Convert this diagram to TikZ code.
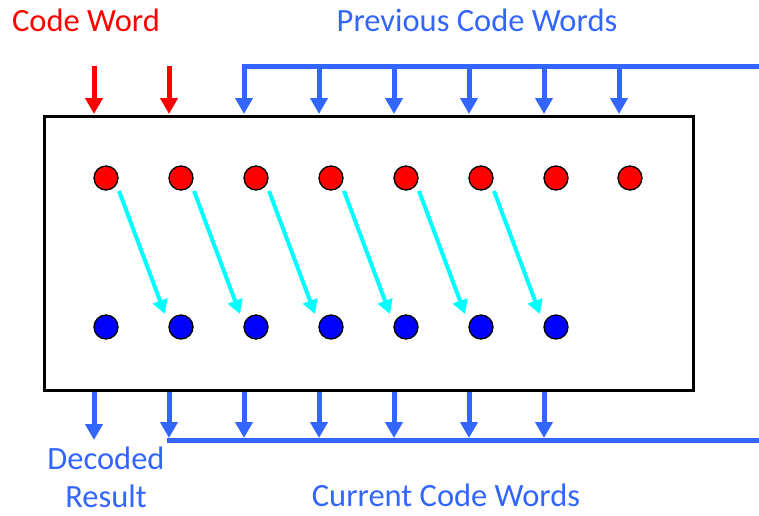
\documentclass[tikz,border=0pt]{standalone}
\usepackage{fontspec}
\setmainfont{Carlito}
\usetikzlibrary{arrows.meta}
\definecolor{myblue}{HTML}{3366FF}
\definecolor{dotblue}{HTML}{0000FF}
\definecolor{dotred}{HTML}{FF0000}
\definecolor{mycyan}{HTML}{00FFFF}
\tikzset{
  rdot/.style={circle,draw=black,line width=1.3pt,fill=dotred,minimum size=24pt,inner sep=0pt},
  bdot/.style={circle,draw=black,line width=1.3pt,fill=dotblue,minimum size=24pt,inner sep=0pt},
  redarr/.style={draw=dotred,line width=5pt,-{Triangle[width=17pt,length=16pt]}},
  bluearr/.style={draw=myblue,line width=5pt,-{Triangle[width=17pt,length=16pt]}},
  blueline/.style={draw=myblue,line width=5pt},
  cyanarr/.style={draw=mycyan,line width=4pt,-{Triangle[width=15pt,length=14pt]}},
  lbl/.style={font=\fontsize{32.5}{38}\selectfont,inner sep=0pt},
  boxst/.style={draw=black,line width=3pt}
}
\begin{document}
\begin{tikzpicture}[x=1pt,y=-1pt]
\useasboundingbox (0,0) rectangle (759,515);
% box
\coordinate (boxNW) at (44,116);
\coordinate (boxSE) at (693,390);
\draw[boxst] (boxNW) rectangle (boxSE);
% dots
\foreach \i/\x in {1/106,2/181,3/256,4/331,5/406,6/481,7/556,8/630}{
  \node[rdot] (r\i) at (\x,178) {};
}
\foreach \i/\x in {1/106,2/181,3/256,4/331,5/406,6/481,7/556}{
  \node[bdot] (b\i) at (\x,327) {};
}
% cyan arrows
\foreach \i [evaluate=\i as \j using int(\i+1)] in {1,...,6}{
  \draw[cyanarr] ([shift={(13,13)}]r\i.center) -- ([shift={(-16,-13)}]b\j.center);
}
% red input arrows
\foreach \x [count=\k] in {94,169}{
  \coordinate (rs\k) at (\x,66);
  \coordinate (re\k) at (\x,114);
  \draw[redarr] (rs\k) -- (re\k);
}
% previous code words bus
\coordinate (pbL) at (244,66);
\coordinate (pbR) at (759,66);
\draw[blueline] ([xshift=-2.5pt]pbL) -- (pbR);
\foreach \x [count=\k] in {244,319,394,469,544,619}{
  \coordinate (ps\k) at (\x,66);
  \coordinate (pe\k) at (\x,114);
  \draw[bluearr] (ps\k) -- (pe\k);
}
% outputs
\coordinate (os0) at (94,392);
\coordinate (oe0) at (94,440);
\draw[bluearr] (os0) -- (oe0);
\coordinate (cbL) at (169,440);
\coordinate (cbR) at (759,440);
\draw[blueline] ([xshift=-2.5pt]cbL) -- (cbR);
\foreach \x [count=\k] in {169,244,319,394,469,544}{
  \coordinate (os\k) at (\x,392);
  \coordinate (oe\k) at (\x,438);
  \draw[bluearr] (os\k) -- (oe\k);
}
% labels
\node[lbl,text=dotred] (cw) at (86,20) {Code Word};
\node[lbl,text=myblue] (pcw) at (477,20) {Previous Code Words};
\node[lbl,text=myblue] (dec) at (106,458) {Decoded};
\node[lbl,text=myblue] (res) at (106,496) {Result};
\node[lbl,text=myblue] (ccw) at (446,495) {Current Code Words};
\end{tikzpicture}
\end{document}
